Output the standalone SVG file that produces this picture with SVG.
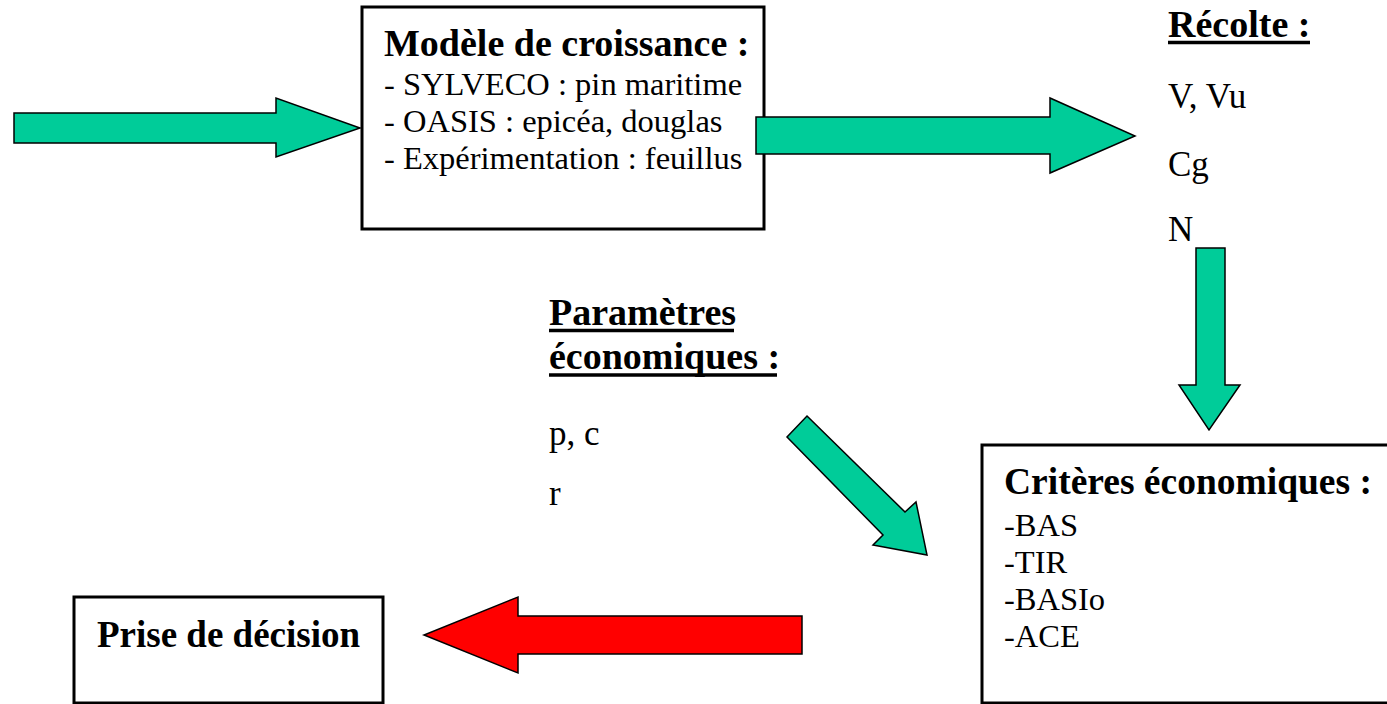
<svg xmlns="http://www.w3.org/2000/svg" width="1387" height="704" viewBox="0 0 1387 704">
<style>
.box{fill:#fff;stroke:#000;stroke-width:3}
.g{fill:#00CC99;stroke:#000;stroke-width:1.5;stroke-linejoin:miter}
.r{fill:#FF0000;stroke:#000;stroke-width:1.5}
.h{font-family:"Liberation Serif","Times New Roman",serif;font-weight:bold;font-size:38px;fill:#000}
.t{font-family:"Liberation Serif","Times New Roman",serif;font-size:32.5px;fill:#000}
.s{font-family:"Liberation Serif","Times New Roman",serif;font-size:35px;fill:#000}
.ul{stroke:#000;stroke-width:3.5}
</style>
<rect width="1387" height="704" fill="#fff"/>
<g id="modele">
<rect class="box" x="362" y="7" width="402" height="222"/>
<text class="h" x="384" y="56">Modèle de croissance :</text>
<text class="t" x="384" y="95">- SYLVECO : pin maritime</text>
<text class="t" x="384" y="132">- OASIS : epicéa, douglas</text>
<text class="t" x="384" y="169">- Expérimentation : feuillus</text>
</g>
<g id="recolte">
<text class="h" x="1168" y="37">Récolte :</text>
<line class="ul" x1="1168" y1="42.5" x2="1310" y2="42.5"/>
<text class="s" x="1168" y="108">V, Vu</text>
<text class="s" x="1168" y="176">Cg</text>
<text class="s" x="1168" y="241">N</text>
</g>
<g id="parametres">
<text class="h" x="549" y="325">Paramètres</text>
<line class="ul" x1="549" y1="330.5" x2="734" y2="330.5"/>
<text class="h" x="549" y="369">économiques :</text>
<line class="ul" x1="549" y1="375" x2="777" y2="375"/>
<text class="s" x="549" y="445">p, c</text>
<text class="s" x="549" y="505">r</text>
</g>
<g id="criteres">
<rect class="box" x="982" y="445" width="420" height="258"/>
<text class="h" x="1004" y="494" style="font-size:37.5px">Critères économiques :</text>
<text class="t" x="1004" y="536">-BAS</text>
<text class="t" x="1004" y="573">-TIR</text>
<text class="t" x="1004" y="610">-BASIo</text>
<text class="t" x="1004" y="647">-ACE</text>
</g>
<g id="decision">
<rect class="box" x="74" y="597" width="309" height="106"/>
<text class="h" x="97" y="647" style="font-size:37px">Prise de décision</text>
</g>
<g id="connectors">
<polygon class="g" points="14,113 276,113 276,98 360,128 276,157 276,143 14,143"/>
<polygon class="g" points="756,117 1050,117 1050,98 1135,136 1050,173 1050,154 756,154"/>
<polygon class="g" points="1196,248 1225,248 1225,385 1240,385 1209,430 1179,385 1196,385"/>
<polygon class="g" points="807,416 905,512 916,502 927,555 873,545 883,535 787,437"/>
<polygon class="r" points="802,616 518,616 518,597 424,635 518,673 518,654 802,654"/>
</g>
</svg>
